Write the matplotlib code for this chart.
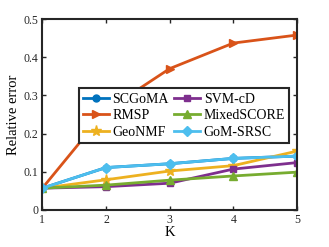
import numpy as np
import matplotlib
matplotlib.use('Agg')
import matplotlib.pyplot as plt

plt.rcParams['font.family'] = ['Liberation Serif', 'DejaVu Serif']
plt.rcParams['mathtext.fontset'] = 'stix'

# -------------------------
#          Data
# -------------------------
K = [1, 2, 3, 4, 5]
methods = ["SCGoMA", "RMSP", "GeoNMF", "SVM-cD", "MixedSCORE", "GoM-SRSC"]
err_scgoma = [0.057, 0.111, 0.121, 0.135, 0.141]
err_rmsp = [0.057, 0.260, 0.370, 0.437, 0.458]
err_geonmf = [0.057, 0.079, 0.102, 0.116, 0.154]
err_svmcd = [0.057, 0.061, 0.070, 0.107, 0.124]
err_mixedscore = [0.057, 0.065, 0.078, 0.089, 0.099]
err_gomsrsc = [0.057, 0.111, 0.121, 0.135, 0.141]

series = [err_scgoma, err_rmsp, err_geonmf, err_svmcd, err_mixedscore, err_gomsrsc]
colors = ['#0072BD', '#D95319', '#EDB120', '#7E2F8E', '#77AC30', '#4DBEEE']
markers = ['o', '>', '*', 's', '^', 'D']
msizes = [5, 6, 8, 5, 6, 5]

# -------------------------
#          Plot
# -------------------------
fig = plt.figure(figsize=(3.29, 2.47), dpi=100)
ax = fig.add_axes([0.1286, 0.150, 0.774, 0.773])

for vals, name, c, m, ms in zip(series, methods, colors, markers, msizes):
   ax.plot(K, vals, color=c, marker=m, markersize=ms, linewidth=2, label=name)

ax.set_xlim(1, 5)
ax.set_ylim(0, 0.5)
ax.set_xticks(K)
ax.set_yticks([0, 0.1, 0.2, 0.3, 0.4, 0.5])
ax.set_yticklabels(['0', '0.1', '0.2', '0.3', '0.4', '0.5'])
ax.tick_params(direction='in', top=True, right=True, labelsize=8.5, length=3,
   width=1, colors='#262626', pad=3)
for sp in ax.spines.values():
   sp.set_linewidth(1.5)
   sp.set_color('#262626')

ax.set_xlabel('K', fontsize=10.5, labelpad=0)
ax.set_ylabel('Relative error', fontsize=10.5, labelpad=2)

leg = ax.legend(ncol=2, loc='center', bbox_to_anchor=(0.559, 0.532),
   bbox_transform=fig.transFigure, fontsize=10, fancybox=False,
   edgecolor='#262626', framealpha=1, handlelength=1.9, handletextpad=0.25,
   columnspacing=0.35, labelspacing=0.25, borderpad=0.3, borderaxespad=0)
leg.get_frame().set_linewidth(1.5)

fig.savefig('out.png', dpi=100)
